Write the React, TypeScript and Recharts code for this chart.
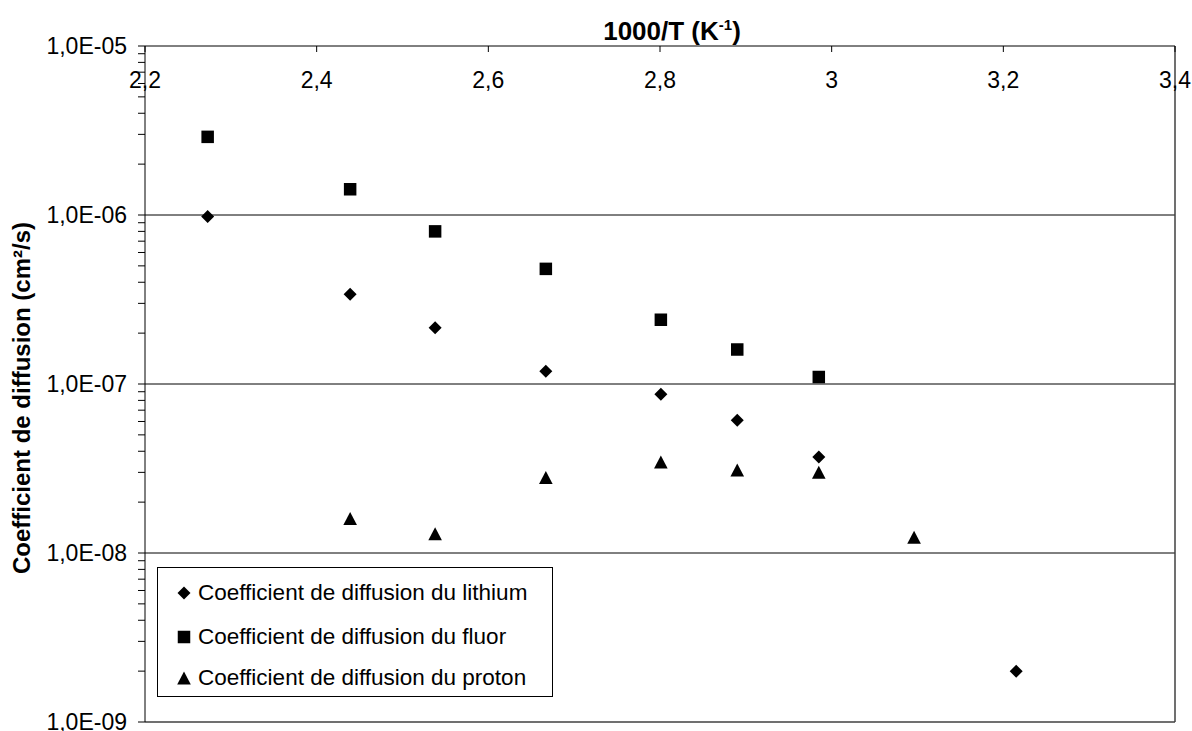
import { ScatterChart, Scatter, XAxis, YAxis, ReferenceLine } from 'recharts'

// 1000/T values (K^-1)
const invT = [2.273, 2.439, 2.538, 2.667, 2.801, 2.89, 2.985, 3.096, 3.215]

// diffusion coefficients (cm²/s), null where no measurement
const lithium = [9.8e-7, 3.4e-7, 2.15e-7, 1.19e-7, 8.7e-8, 6.1e-8, 3.7e-8, null, 2.0e-9]
const fluor = [2.9e-6, 1.42e-6, 8.0e-7, 4.8e-7, 2.4e-7, 1.6e-7, 1.1e-7, null, null]
const proton = [null, 1.6e-8, 1.3e-8, 2.8e-8, 3.45e-8, 3.1e-8, 3.0e-8, 1.24e-8, null]

const xTicks = [2.2, 2.4, 2.6, 2.8, 3.0, 3.2, 3.4]
const decades = [1e-9, 1e-8, 1e-7, 1e-6, 1e-5]
const minorSteps = [2, 3, 4, 5, 6, 7, 8, 9]

const seriesNames = [
  'Coefficient de diffusion du lithium',
  'Coefficient de diffusion du fluor',
  'Coefficient de diffusion du proton'
]

const FONT = '"Liberation Sans", Arial, sans-serif'

const toPoints = (vals: (number | null)[]) =>
  invT.map((x, i) => ({ x, y: vals[i] })).filter((p) => p.y !== null)

const yTicks: number[] = []
decades.forEach((d, i) => {
  yTicks.push(d)
  if (i < decades.length - 1) minorSteps.forEach((m) => yTicks.push(d * m))
})

const isDecade = (v: number) => Math.abs(Math.log10(v) - Math.round(Math.log10(v))) < 1e-6

const fmtExp = (v: number) => {
  const e = Math.round(Math.log10(v))
  return `1,0E${e < 0 ? '-' : '+'}${String(Math.abs(e)).padStart(2, '0')}`
}

const YTick = (props: any) => {
  const { x, y, payload } = props
  const v = payload.value
  return (
    <g>
      <line x1={x + 11} x2={x + 18} y1={y} y2={y} stroke="#000" strokeWidth={1} />
      {isDecade(v) && (
        <text x={x} y={y} dy="0.36em" textAnchor="end" fontSize={23} fontFamily={FONT} fill="#000">
          {fmtExp(v)}
        </text>
      )}
    </g>
  )
}

const Diamond = ({ cx, cy }: any) => (
  <polygon points={`${cx},${cy - 6.5} ${cx + 6.5},${cy} ${cx},${cy + 6.5} ${cx - 6.5},${cy}`} fill="#000" />
)
const Square = ({ cx, cy }: any) => <rect x={cx - 6.25} y={cy - 6.25} width={12.5} height={12.5} fill="#000" />
const Triangle = ({ cx, cy }: any) => (
  <polygon points={`${cx},${cy - 6.5} ${cx + 6.8},${cy + 6.5} ${cx - 6.8},${cy + 6.5}`} fill="#000" />
)

const markers = [Diamond, Square, Triangle]

export default function App() {
  return (
    <div style={{ position: 'absolute', left: 0, top: 0, width: 1192, height: 731, background: '#fff', fontFamily: FONT }}>
      <ScatterChart width={1192} height={731} margin={{ top: 46, right: 17, bottom: 9, left: 0 }}>
        <XAxis
          type="number"
          dataKey="x"
          orientation="top"
          mirror
          domain={[2.2, 3.4]}
          ticks={xTicks}
          interval={0}
          tickFormatter={(v: number) => String(Number(v.toFixed(1))).replace('.', ',')}
          tick={{ fontSize: 23, fill: '#000', fontFamily: FONT }}
          tickSize={6}
          tickMargin={20}
          axisLine={{ stroke: '#000' }}
          tickLine={{ stroke: '#000' }}
          allowDataOverflow
        />
        <YAxis
          type="number"
          dataKey="y"
          scale="log"
          domain={[1e-9, 1e-5]}
          ticks={yTicks}
          interval={0}
          width={145}
          tick={<YTick />}
          tickLine={false}
          tickSize={7}
          tickMargin={11}
          axisLine={{ stroke: '#000' }}
          allowDataOverflow
        />
        {[1e-6, 1e-7, 1e-8].map((v) => (
          <ReferenceLine key={v} y={v} stroke="#000" strokeWidth={1} />
        ))}
        <ReferenceLine y={1e-9} stroke="#404040" strokeWidth={1.5} />
        <ReferenceLine x={3.4} stroke="#404040" strokeWidth={1.5} />
        <Scatter name={seriesNames[0]} data={toPoints(lithium)} shape={<Diamond />} isAnimationActive={false} />
        <Scatter name={seriesNames[1]} data={toPoints(fluor)} shape={<Square />} isAnimationActive={false} />
        <Scatter name={seriesNames[2]} data={toPoints(proton)} shape={<Triangle />} isAnimationActive={false} />
      </ScatterChart>

      <div
        style={{
          position: 'absolute',
          left: 672,
          top: 31,
          transform: 'translate(-50%, -50%)',
          fontSize: 26,
          fontWeight: 'bold',
          whiteSpace: 'nowrap'
        }}
      >
        1000/T (K<sup style={{ fontSize: 15 }}>-1</sup>)
      </div>

      <div
        style={{
          position: 'absolute',
          left: 22,
          top: 398,
          transform: 'translate(-50%, -50%) rotate(-90deg)',
          fontSize: 24,
          fontWeight: 'bold',
          whiteSpace: 'nowrap'
        }}
      >
        Coefficient de diffusion (cm²/s)
      </div>

      <div
        style={{
          position: 'absolute',
          left: 157,
          top: 567,
          width: 396,
          height: 130,
          border: '1px solid #000',
          boxSizing: 'border-box'
        }}
      >
        {seriesNames.map((name, i) => {
          const M = markers[i]
          return (
            <div
              key={name}
              style={{
                position: 'absolute',
                left: 18,
                top: [25, 69, 110][i] - 14,
                height: 28,
                display: 'flex',
                alignItems: 'center',
                whiteSpace: 'nowrap',
                fontSize: 22.5
              }}
            >
              <svg width={16} height={16} style={{ marginRight: 6 }}>
                <M cx={8} cy={8} />
              </svg>
              {name}
            </div>
          )
        })}
      </div>
    </div>
  )
}
